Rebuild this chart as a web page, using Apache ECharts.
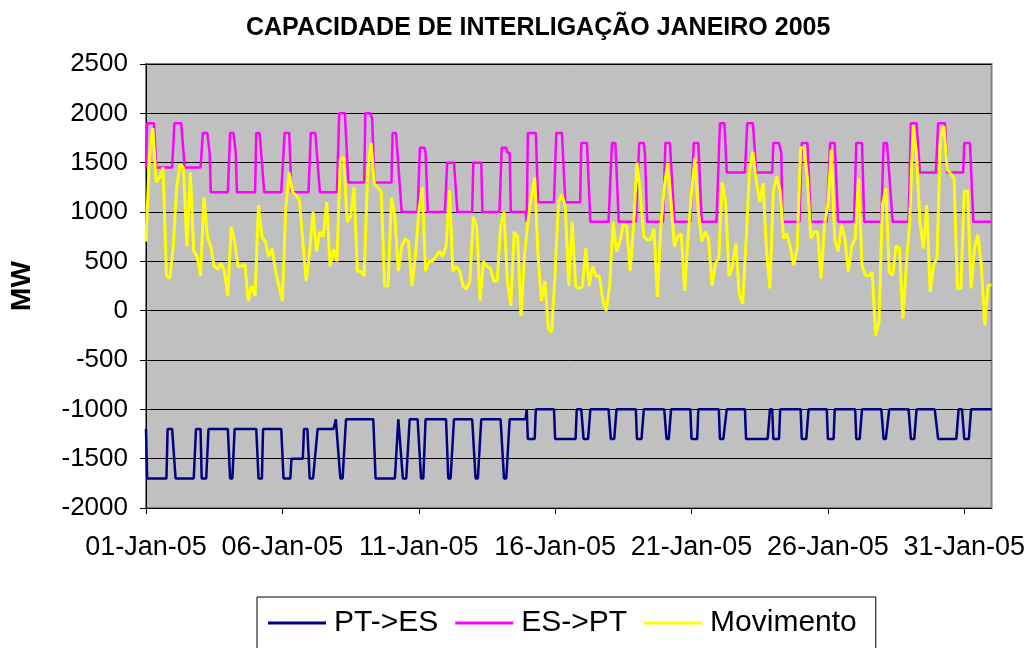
<!DOCTYPE html>
<html>
<head>
<meta charset="utf-8">
<title>Capacidade de interligação</title>
<script src="https://cdn.jsdelivr.net/npm/echarts@6/dist/echarts.min.js"></script>
<style>
    html, body { margin: 0; padding: 0; background: #fff; }
    #chart { width: 1028px; height: 648px; }
</style>
</head>
<body>
<div id="chart"></div>
<script>
// eixo x em horas desde 01-Jan-05 00:00 (744 h = 31 dias)
var xTickLabels = ['01-Jan-05', '06-Jan-05', '11-Jan-05', '16-Jan-05', '21-Jan-05', '26-Jan-05', '31-Jan-05'];
var seriesNames = ['PT->ES', 'ES->PT', 'Movimento'];

// PT->ES : [hora, MW] nos pontos de mudança
var ptEsSteps = [
    [0,-1200],[1,-1700],[18,-1700],[19,-1200],[23,-1200],[26,-1700],
    [42,-1700],[44,-1200],[48,-1200],[49,-1700],[53,-1700],[55,-1200],
    [72,-1200],[74,-1700],[76,-1700],[78,-1200],[97,-1200],[99,-1700],
    [102,-1700],[103,-1200],[119,-1200],[121,-1700],[127,-1700],[128,-1500],
    [138,-1500],[139,-1200],[142,-1200],[144,-1700],[147,-1700],[151,-1200],
    [165,-1200],[167,-1100],[171,-1700],[173,-1700],[176,-1100],
    [200,-1100],[202,-1700],[219,-1700],[222,-1100],[223,-1100],[226,-1700],
    [229,-1700],[232,-1100],[239,-1100],[242,-1700],[244,-1700],[246,-1100],
    [264,-1100],[266,-1700],[268,-1700],[271,-1100],[287,-1100],[290,-1700],
    [292,-1700],[295,-1100],[312,-1100],[315,-1700],[317,-1700],[320,-1100],
    [334,-1100],[335,-1000],[336,-1300],[342,-1300],[343,-1000],[359,-1000],[360,-1300],
    [378,-1300],[379,-1000],[383,-1000],[385,-1300],[389,-1300],[391,-1000],
    [407,-1000],[409,-1300],[412,-1300],[414,-1000],[431,-1000],[432,-1300],
    [436,-1300],[438,-1000],[456,-1000],[458,-1300],[460,-1300],[462,-1000],
    [479,-1000],[480,-1300],[485,-1300],[486,-1000],[504,-1000],[505,-1300],
    [508,-1300],[511,-1000],[527,-1000],[528,-1300],[547,-1300],[549,-1000],
    [551,-1000],[552,-1300],[557,-1300],[558,-1000],[576,-1000],[577,-1300],
    [581,-1300],[583,-1000],[599,-1000],[600,-1300],[605,-1300],[606,-1000],
    [624,-1000],[625,-1300],[628,-1300],[630,-1000],[647,-1000],[649,-1300],
    [651,-1300],[654,-1000],[671,-1000],[673,-1300],[676,-1300],[678,-1000],
    [694,-1000],[697,-1300],[713,-1300],[715,-1000],[718,-1000],[720,-1300],
    [724,-1300],[726,-1000],[744,-1000]
];

// ES->PT : [hora, MW] nos pontos de mudança
var esPtSteps = [
    [0,1450],[1,1900],[7,1900],[9,1450],[23,1450],[25,1900],[31,1900],[34,1450],
    [48,1450],[50,1800],[54,1800],[56,1600],[57,1200],
    [72,1200],[74,1800],[77,1800],[79,1600],[80,1200],
    [96,1200],[97,1800],[100,1800],[104,1200],
    [119,1200],[122,1800],[126,1800],[128,1200],
    [143,1200],[145,1800],[149,1800],[153,1200],
    [168,1200],[170,2000],[175,2000],[178,1300],
    [192,1300],[193,2000],[197,2000],[199,1950],[201,1300],
    [216,1300],[217,1800],[220,1800],[225,1000],
    [239,1000],[241,1650],[245,1650],[246,1600],[247,1600],[248,1000],
    [263,1000],[265,1500],[271,1500],[274,1000],
    [287,1000],[288,1500],[295,1500],[296,1000],
    [311,1000],[313,1650],[317,1650],[318,1600],[320,1600],[321,1000],
    [334,1000],[335,900],[336,1800],[343,1800],[345,1100],
    [359,1100],[361,1800],[366,1800],[369,1100],
    [382,1100],[383,1700],[388,1700],[391,900],
    [407,900],[410,1700],[413,1700],[416,900],
    [431,900],[434,1700],[438,1700],[439,1600],[441,900],
    [455,900],[457,1700],[461,1700],[465,900],
    [479,900],[482,1700],[486,1700],[489,900],
    [502,900],[505,1900],[509,1900],[511,1400],
    [527,1400],[529,1900],[534,1900],[537,1400],
    [551,1400],[552,1700],[557,1700],[559,1600],[560,900],
    [575,900],[577,1700],[582,1700],[585,900],
    [599,900],[602,1700],[606,1700],[609,900],
    [623,900],[625,1700],[630,1700],[632,900],
    [647,900],[649,1700],[652,1700],[657,900],
    [671,900],[673,1900],[678,1900],[681,1400],
    [695,1400],[697,1900],[703,1900],[705,1400],
    [719,1400],[720,1700],[725,1700],[728,900],[744,900]
];

// Movimento : um valor lido a cada 3 horas
var movimentoStep = 3;
var movimentoValues = [
    700,1550,1850,1300,1350,1450,350,330,650,1250,1480,1450,650,1400,600,550,350,1150,750,650,
    450,420,480,400,150,850,700,450,450,470,100,250,150,1070,750,700,550,630,400,250,
    100,1050,1400,
    1200,1170,1120,700,300,600,1000,600,800,750,1100,450,620,500,1540,1550,900,950,1250,400,
    400,350,1400,1700,1280,1250,1200,250,250,1150,950,400,650,730,700,250,550,1000,1250,400,
    500,500,
    550,600,550,650,1220,400,450,400,250,220,300,950,850,100,500,450,430,300,300,850,
    1000,300,50,800,750,-50,550,900,1150,1350,550,100,300,-180,-220,400,1100,1180,1050,250,
    900,250,225,
    240,630,250,450,350,350,100,0,250,900,600,700,880,850,400,850,1500,1200,750,720,
    720,830,140,850,1250,1500,1100,650,750,780,200,750,1200,1550,1000,700,800,730,250,480,
    530,1300,1100,
    350,450,680,170,70,700,1410,1610,1310,1105,1290,600,225,1210,1360,1210,730,780,640,460,
    630,1650,1650,1340,730,800,800,325,870,1070,1630,730,600,870,730,390,660,730,1340,460,
    360,350,
    390,-250,-110,1070,1240,390,360,660,630,-80,460,900,1880,1580,900,630,1070,190,460,530,
    1750,1870,1430,1390,1340,225,225,1210,1210,225,630,770,460,-150,260,260
];

var movimentoData = movimentoValues.map(function (v, i) {
    return [i * movimentoStep, v];
});

var font = 'Arial, "Liberation Sans", sans-serif';

var option = {
    backgroundColor: '#ffffff',
    animation: false,
    title: {
        text: 'CAPACIDADE DE INTERLIGAÇÃO JANEIRO 2005',
        left: 241,
        top: 11,
        textStyle: { fontFamily: font, fontSize: 25, fontWeight: 'bold', color: '#000' }
    },
    legend: {
        data: seriesNames,
        left: 257,
        top: 597,
        orient: 'horizontal',
        itemWidth: 58,
        itemHeight: 3,
        itemGap: 17,
        padding: [11, 19, 40, 11],
        borderColor: '#000',
        borderWidth: 1,
        icon: 'rect',
        textStyle: { fontFamily: font, fontSize: 30, color: '#000', padding: [0, 0, 0, 3] }
    },
    grid: {
        left: 144,
        right: 36,
        top: 64,
        bottom: 140,
        show: true,
        backgroundColor: '#c0c0c0',
        borderColor: '#808080',
        borderWidth: 2
    },
    xAxis: {
        type: 'value',
        min: 0,
        max: 744,
        interval: 120,
        axisLine: { show: true, onZero: false, lineStyle: { color: '#000', width: 1 } },
        axisTick: { show: true, length: 6, lineStyle: { color: '#000' } },
        splitLine: { show: false },
        axisLabel: {
            fontFamily: font,
            fontSize: 27,
            color: '#000',
            margin: 26,
            showMaxLabel: false,
            formatter: function (v) {
                return xTickLabels[v / 120] || '';
            }
        }
    },
    yAxis: {
        type: 'value',
        min: -2000,
        max: 2500,
        interval: 500,
        name: 'MW',
        nameLocation: 'middle',
        nameRotate: 90,
        nameGap: 110,
        nameTextStyle: { fontFamily: font, fontSize: 28, fontWeight: 'bold', color: '#000' },
        axisLine: { show: true, lineStyle: { color: '#000', width: 1 } },
        axisTick: { show: true, length: 6, lineStyle: { color: '#000' } },
        splitLine: { show: true, lineStyle: { color: '#000', width: 1 } },
        axisLabel: {
            fontFamily: font,
            fontSize: 26,
            color: '#000',
            margin: 18,
            formatter: function (v) { return String(v); }
        }
    },
    series: [
        {
            name: seriesNames[0],
            type: 'line',
            data: ptEsSteps,
            showSymbol: false,
            symbol: 'none',
            lineStyle: { color: '#000080', width: 2.5 },
            itemStyle: { color: '#000080' }
        },
        {
            name: seriesNames[1],
            type: 'line',
            data: esPtSteps,
            showSymbol: false,
            symbol: 'none',
            lineStyle: { color: '#ff00ff', width: 2.5 },
            itemStyle: { color: '#ff00ff' }
        },
        {
            name: seriesNames[2],
            type: 'line',
            data: movimentoData,
            showSymbol: false,
            symbol: 'none',
            lineStyle: { color: '#ffff00', width: 3 },
            itemStyle: { color: '#ffff00' }
        }
    ]
};

var chart = echarts.init(document.getElementById('chart'));
chart.setOption(option, true);
</script>
</body>
</html>
